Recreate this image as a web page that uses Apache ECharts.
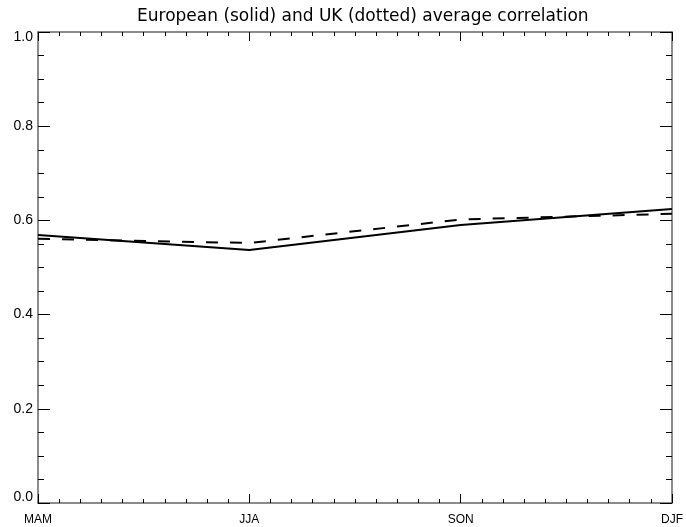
<!DOCTYPE html>
<html><head><meta charset="utf-8">
<script src="https://cdn.jsdelivr.net/npm/echarts@6/dist/echarts.min.js"></script>
<style>html,body{margin:0;padding:0;background:#fff}#c{width:686px;height:527px}</style>
</head><body><div id="c"></div>
<script>
const seasons = ['MAM', 'JJA', 'SON', 'DJF'];
const european = [0.569, 0.537, 0.590, 0.624];
const uk = [0.561, 0.552, 0.602, 0.614];
const titleText = 'European (solid) and UK (dotted) average correlation';

const axisColor = '#666666';
const labelFont = { fontFamily: 'Liberation Sans, Arial, sans-serif', fontSize: 14, color: '#000' };

function yFmt(v) {
  const s = v.toFixed(1);
  if (Math.abs(v) < 1e-9) return '{lo|' + s + '}';
  if (Math.abs(v - 1) < 1e-9) return '{hi|' + s + '}';
  return '{n|' + s + '}';
}

const xBase = {
  type: 'value', min: 0, max: seasons.length - 1, interval: 1,
  axisLine: { show: true, onZero: false, lineStyle: { color: axisColor, width: 1.5 } },
  axisTick: { show: true, inside: true, length: 9, lineStyle: { color: '#000', width: 1 } },
  minorTick: { show: true, splitNumber: 10, length: 4, lineStyle: { color: '#000', width: 1 } },
  splitLine: { show: false }, minorSplitLine: { show: false }
};
const yBase = {
  type: 'value', min: 0, max: 1, interval: 0.2,
  axisLine: { show: true, onZero: false, lineStyle: { color: axisColor, width: 1.5 } },
  axisTick: { show: true, inside: true, length: 12, lineStyle: { color: '#000', width: 1 } },
  minorTick: { show: true, splitNumber: 4, length: 6, lineStyle: { color: '#000', width: 1 } },
  splitLine: { show: false }, minorSplitLine: { show: false }
};

const chart = echarts.init(document.getElementById('c'), null, { renderer: 'canvas' });
chart.setOption({
  animation: false,
  backgroundColor: '#fff',
  title: {
    text: titleText, left: 132, top: 3,
    textStyle: { fontFamily: 'DejaVu Sans, sans-serif', fontSize: 17, fontWeight: 'normal', color: '#000' }
  },
  grid: { left: 38, right: 10, top: 32, bottom: 24, containLabel: false },
  xAxis: [
    Object.assign({}, xBase, {
      position: 'bottom',
      axisLabel: Object.assign({ show: true, margin: 11, formatter: v => seasons[v] }, labelFont, { fontSize: 12 })
    }),
    Object.assign({}, xBase, { position: 'top', axisLabel: { show: false } })
  ],
  yAxis: [
    Object.assign({}, yBase, {
      position: 'left',
      axisLabel: {
        show: true, margin: 5, formatter: yFmt,
        rich: {
          n: Object.assign({}, labelFont),
          lo: Object.assign({ padding: [0, 0, 12, 0] }, labelFont),
          hi: Object.assign({ padding: [10, 0, 0, 0] }, labelFont)
        }
      }
    }),
    Object.assign({}, yBase, { position: 'right', axisLabel: { show: false } })
  ],
  series: [
    {
      name: 'European', type: 'line', xAxisIndex: 0, yAxisIndex: 0, symbol: 'none',
      data: seasons.map((s, i) => [i, european[i]]),
      lineStyle: { color: '#000', width: 2, type: 'solid' }
    },
    {
      name: 'UK', type: 'line', xAxisIndex: 0, yAxisIndex: 0, symbol: 'none',
      data: seasons.map((s, i) => [i, uk[i]]),
      lineStyle: { color: '#000', width: 2, type: [12, 12] }
    }
  ]
});
</script></body></html>
